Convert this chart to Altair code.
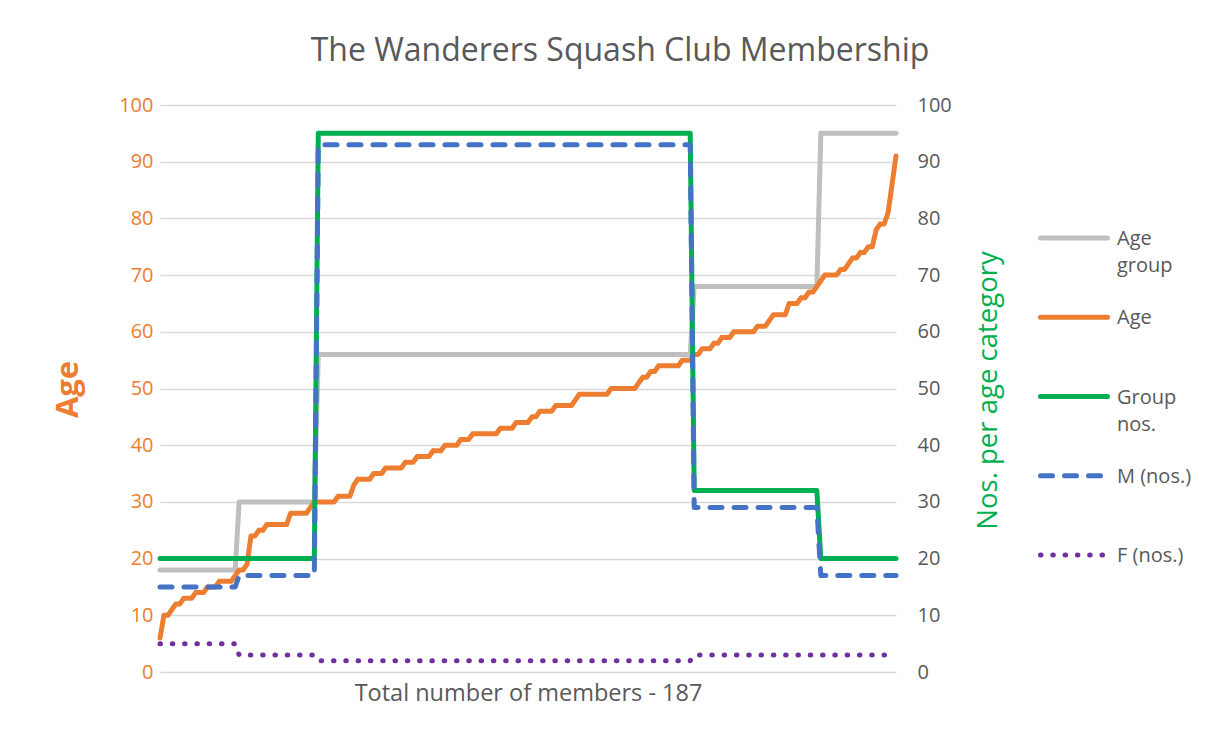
import altair as alt
import pandas as pd

# ---------------- data ----------------
series_names = ["Age group", "Age", "Group nos.", "M (nos.)", "F (nos.)"]
series_colors = ["#BFBFBF", "#ED7D31", "#00B050", "#4472C4", "#7030A0"]
legend_labels = ["Age\ngroup", "Age", "Group\nnos.", "M (nos.)", "F (nos.)"]

# members sorted by age (member index 1..187)
ages = [
    6, 10, 10, 11, 12, 12, 13, 13, 13, 14,
    14, 14, 15, 15, 15, 16, 16, 16, 16, 17,
    18, 18, 19, 24, 24, 25, 25, 26, 26, 26,
    26, 26, 26, 28, 28, 28, 28, 28, 29, 30,
    30, 30, 30, 30, 30, 31, 31, 31, 31, 33,
    34, 34, 34, 34, 35, 35, 35, 36, 36, 36,
    36, 36, 37, 37, 37, 38, 38, 38, 38, 39,
    39, 39, 40, 40, 40, 40, 41, 41, 41, 42,
    42, 42, 42, 42, 42, 42, 43, 43, 43, 43,
    44, 44, 44, 44, 45, 45, 46, 46, 46, 46,
    47, 47, 47, 47, 47, 48, 49, 49, 49, 49,
    49, 49, 49, 49, 50, 50, 50, 50, 50, 50,
    50, 51, 52, 52, 53, 53, 54, 54, 54, 54,
    54, 54, 55, 55, 55, 56, 56, 57, 57, 57,
    58, 58, 59, 59, 59, 60, 60, 60, 60, 60,
    60, 61, 61, 61, 62, 63, 63, 63, 63, 65,
    65, 65, 66, 66, 67, 67, 68, 69, 70, 70,
    70, 70, 71, 71, 72, 73, 73, 74, 74, 75,
    75, 78, 79, 79, 81, 86, 91,
]

# age categories
group_sizes = [20, 20, 95, 32, 20]
age_group_values = [18, 30, 56, 68, 95]
group_nos = [20, 20, 95, 32, 20]
male_nos = [15, 17, 93, 29, 17]
female_nos = [5, 3, 2, 3, 3]


def per_member(values):
    out = []
    for v, n in zip(values, group_sizes):
        out.extend([v] * n)
    return out


members = list(range(1, len(ages) + 1))
columns = {
    "Age group": per_member(age_group_values),
    "Age": ages,
    "Group nos.": per_member(group_nos),
    "M (nos.)": per_member(male_nos),
    "F (nos.)": per_member(female_nos),
}
rows = []
for name, vals in columns.items():
    for m, v in zip(members, vals):
        rows.append({"member": m, "series": name, "value": v})
df = pd.DataFrame(rows)

legend_df = pd.DataFrame({
    "series": series_names,
    "order": list(range(len(series_names))),
    "label": legend_labels,
})

# ---------------- styling ----------------
FONT = "Open Sans"
GREY_TXT = "#595959"
GRID = "#D9D9D9"
LW = 5
dash_map = {
    "Age group": [1, 0],
    "Age": [1, 0],
    "Group nos.": [1, 0],
    "M (nos.)": [12, 12],
    "F (nos.)": [0.5, 11.8],
}

x_enc = alt.X(
    "member:Q",
    scale=alt.Scale(domain=[1, len(ages)], nice=False, zero=False),
    axis=alt.Axis(
        title="Total number of members - 187",
        labels=False, ticks=False, domain=False, grid=False,
        titleFontSize=23.5, titleColor=GREY_TXT, titleFontWeight="normal",
        titleFont=FONT, titleY=21, titleBaseline="middle",
    ),
)

left_y = alt.Y(
    "value:Q",
    scale=alt.Scale(domain=[0, 100], nice=False),
    axis=alt.Axis(
        orient="left", title="Age", values=list(range(0, 101, 10)),
        grid=True, gridColor=GRID, gridWidth=1.3, domain=False, ticks=False, tickSize=0,
        labelColor="#ED7D31", labelFontSize=20, labelFont=FONT, labelPadding=7,
        titleColor="#ED7D31", titleFontSize=31, titleFontWeight="bold", titleFont=FONT,
        titleAngle=270, titleX=-92, titleY=284, titleBaseline="middle", titleAlign="center",
    ),
)

right_y = alt.Y(
    "value:Q",
    scale=alt.Scale(domain=[0, 100], nice=False),
    axis=alt.Axis(
        orient="right", title="Nos. per age category", values=list(range(0, 101, 10)),
        grid=False, domain=False, ticks=False, tickSize=0,
        labelColor=GREY_TXT, labelFontSize=20, labelFont=FONT, labelPadding=21,
        titleColor="#00B050", titleFontSize=27.5, titleFontWeight="normal", titleFont=FONT,
        titleAngle=270, titleX=92, titleY=285, titleBaseline="middle", titleAlign="center",
    ),
)


def series_line(name, y_enc):
    i = series_names.index(name)
    return (
        alt.Chart(df)
        .transform_filter(alt.datum.series == name)
        .mark_line(
            color=series_colors[i], strokeWidth=LW, strokeCap="round",
            strokeJoin="round", strokeDash=dash_map[name],
        )
        .encode(x=x_enc, y=y_enc)
    )


left_layer = alt.layer(
    series_line("Age group", left_y),
    series_line("Age", left_y),
)
right_layer = alt.layer(
    series_line("Group nos.", right_y),
    series_line("M (nos.)", right_y),
    series_line("F (nos.)", right_y),
)

leg_y = alt.Y("order:Q", scale=alt.Scale(domain=[0, 4], range=[133, 450]), axis=None)
leg_color = alt.Color("series:N", scale=alt.Scale(domain=series_names, range=series_colors), legend=None)
leg_dash = alt.StrokeDash(
    "series:N",
    scale=alt.Scale(domain=series_names, range=[dash_map[n] for n in series_names]),
    legend=None,
)

legend_symbols = (
    alt.Chart(legend_df)
    .mark_rule(strokeWidth=LW, strokeCap="round")
    .encode(x=alt.value(880.5), x2=alt.value(947.5), y=leg_y, color=leg_color, strokeDash=leg_dash)
)
legend_text = (
    alt.Chart(legend_df)
    .mark_text(align="left", baseline="alphabetic", dy=7, fontSize=20, font=FONT,
               lineBreak="\n", lineHeight=27, color=GREY_TXT)
    .encode(x=alt.value(957), y=leg_y, text="label:N")
)
legend_layer = alt.layer(legend_symbols, legend_text)

chart = (
    alt.layer(left_layer, right_layer, legend_layer)
    .resolve_scale(y="independent")
    .properties(
        width=736,
        height=567,
        title=alt.TitleParams(
            "The Wanderers Squash Club Membership",
            fontSize=32, font=FONT, fontWeight="normal", color=GREY_TXT,
            anchor="middle", dx=92, offset=27,
        ),
        autosize=alt.AutoSizeParams(type="none"),
        padding={"left": 152, "top": 97, "right": 325, "bottom": 58},
    )
    .configure(font=FONT)
    .configure_view(stroke=None)
)

chart.save("out.html", embed_options={"renderer": "svg", "actions": False})
